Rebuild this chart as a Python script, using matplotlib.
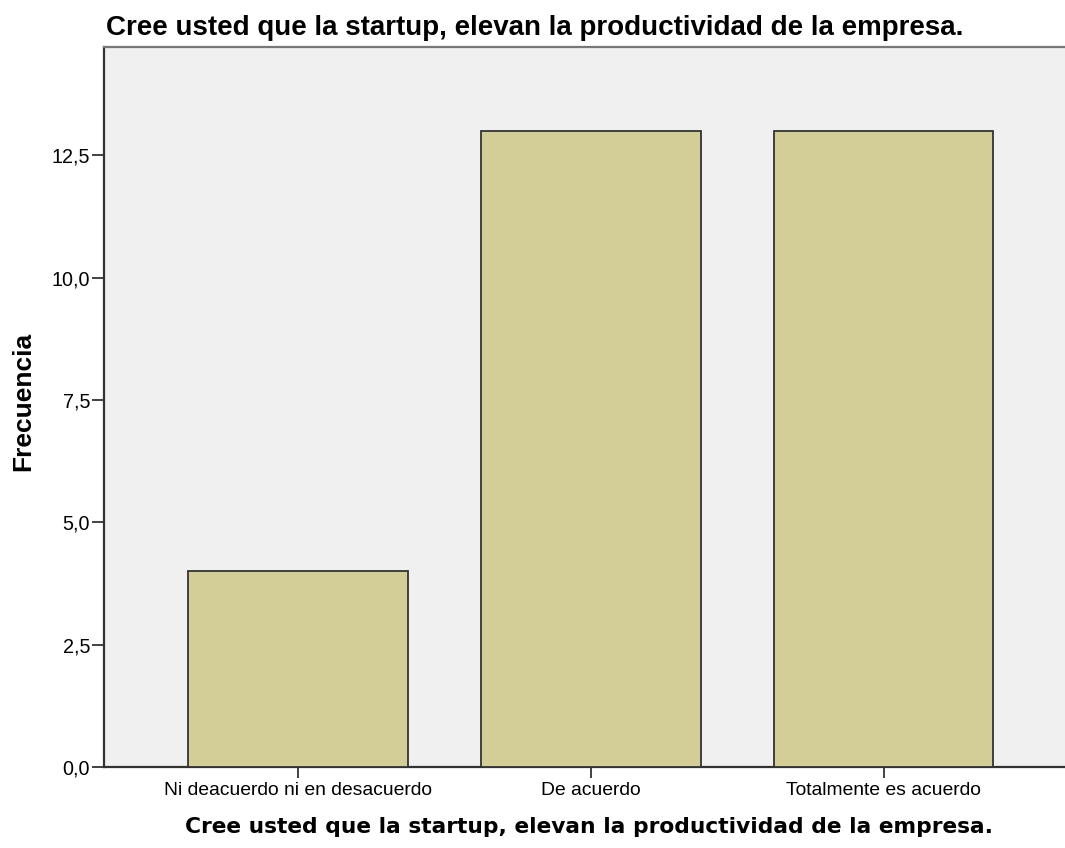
import matplotlib
matplotlib.use("Agg")
import matplotlib.pyplot as plt
from matplotlib.ticker import FuncFormatter

categories = ["Ni deacuerdo ni en desacuerdo", "De acuerdo", "Totalmente es acuerdo"]
frecuencia = [4, 13, 13]
y_ticks = [0.0, 2.5, 5.0, 7.5, 10.0, 12.5]
title = "Cree usted que la startup, elevan la productividad de la empresa."

plt.rcParams["font.family"] = ["Liberation Sans", "DejaVu Sans"]

fig = plt.figure(figsize=(10.65, 8.48), dpi=100)
ax = fig.add_axes([0.0977, 0.0955, 0.9023, 0.849])
ax.set_facecolor("#F0F0F0")

x = list(range(len(categories)))
ax.bar(x, frecuencia, width=0.75, color="#D3CE97", edgecolor="#333333",
       linewidth=1.3, zorder=3)

ax.set_xlim(-0.663, 2.62)
ax.set_ylim(0, 14.71)
ax.set_xticks(x, categories, fontsize=13.9)
ax.set_yticks(y_ticks)
ax.yaxis.set_major_formatter(FuncFormatter(lambda v, _: f"{v:.1f}".replace(".", ",")))
ax.tick_params(axis="y", labelsize=14.2, length=8.5, width=1.3, color="#333333", pad=1.5)
ax.tick_params(axis="x", length=8, width=1.3, color="#333333", pad=3)

ax.spines["left"].set_color("#333333")
ax.spines["left"].set_linewidth(1.6)
ax.spines["bottom"].set_color("#333333")
ax.spines["bottom"].set_linewidth(1.6)
ax.spines["top"].set_color("#777777")
ax.spines["top"].set_linewidth(1.6)
ax.spines["right"].set_visible(False)

ax.set_ylabel("Frecuencia", fontsize=19, fontweight="bold", labelpad=12)
ax.yaxis.label.set_y(0.508)
ax.set_xlabel(title, fontsize=15.7, fontweight="bold", family="DejaVu Sans", labelpad=13)
ax.xaxis.label.set_x(0.505)
ax.set_title(title, fontsize=20, fontweight="bold", loc="left", x=0.002, pad=8.6)

fig.savefig("out.png", dpi=100)
